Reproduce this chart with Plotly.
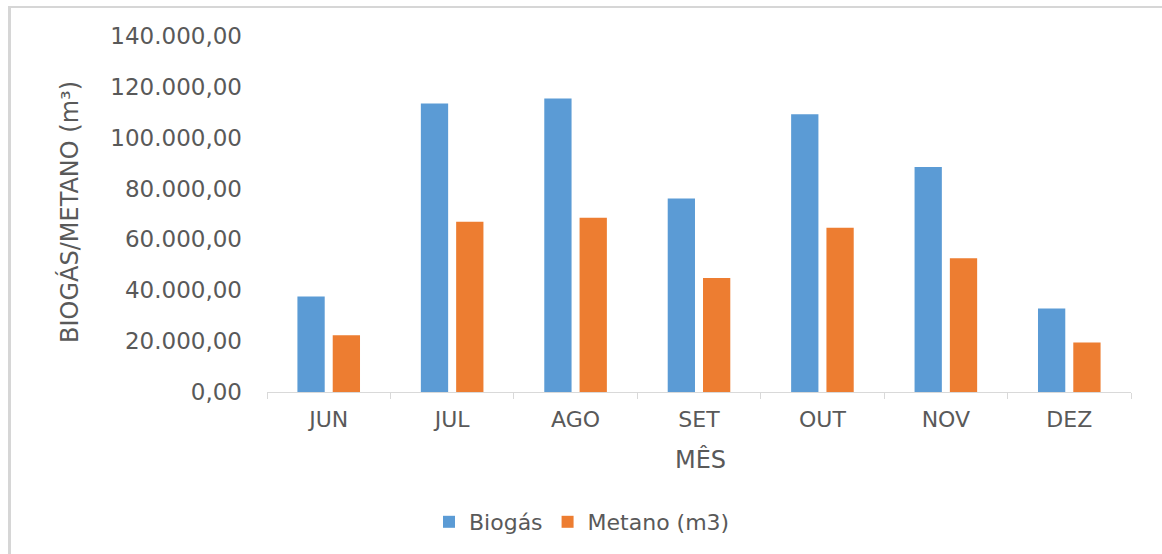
import plotly.graph_objects as go

# Monthly biogas / methane volumes (m³)
meses = ["JUN", "JUL", "AGO", "SET", "OUT", "NOV", "DEZ"]
biogas = [37600, 113500, 115400, 76100, 109200, 88500, 32800]
metano = [22300, 67000, 68500, 44800, 64600, 52600, 19500]

y_ticks = [0, 20000, 40000, 60000, 80000, 100000, 120000, 140000]

W, H = 1162, 554
L, R, T, B = 267, 31, 36, 162
PW, PH = W - L - R, H - T - B


def px_x(x):
    return (x - L) / PW


def px_y(y):
    return (H - B - y) / PH


FONT = "DejaVu Sans"
GREY = "#595959"

fig = go.Figure()
fig.add_trace(go.Bar(x=meses, y=biogas, name="Biogás", marker_color="#5B9BD5",
                     marker_line_width=0))
fig.add_trace(go.Bar(x=meses, y=metano, name="Metano (m3)", marker_color="#ED7D31",
                     marker_line_width=0))

fig.update_layout(
    width=W, height=H,
    margin=dict(l=L, r=R, t=T, b=B, autoexpand=False),
    paper_bgcolor="white", plot_bgcolor="white",
    barmode="group", bargap=0.428, bargroupgap=0.227,
    separators=",.",
    font=dict(family=FONT, color=GREY),
    showlegend=True,
    legend=dict(orientation="h", x=px_x(582), y=px_y(522), xanchor="center",
                yanchor="middle", font=dict(family=FONT, size=22, color=GREY),
                itemwidth=30, traceorder="normal", bgcolor="rgba(0,0,0,0)"),
    xaxis=dict(
        type="category", showgrid=False, showline=True, linecolor="#d9d9d9",
        linewidth=1, ticks="outside", tickson="boundaries", ticklen=6,
        tickcolor="#d9d9d9", tickfont=dict(family=FONT, size=22, color=GREY),
        ticklabelstandoff=8, zeroline=False,
    ),
    yaxis=dict(
        range=[0, 140000], tickvals=y_ticks, tickformat=",.2f", showgrid=False,
        showline=False, zeroline=False, ticks="",
        tickfont=dict(family=FONT, size=23, color=GREY), ticklabelstandoff=24,
    ),
    annotations=[
        dict(text="BIOGÁS/METANO (m³)", textangle=-90, x=px_x(69), y=px_y(212),
             xref="paper", yref="paper", xanchor="center", yanchor="middle",
             showarrow=False, font=dict(family=FONT, size=24, color=GREY)),
        dict(text="MÊS", x=px_x(700), y=px_y(459), xref="paper", yref="paper",
             xanchor="center", yanchor="middle", showarrow=False,
             font=dict(family=FONT, size=24, color=GREY)),
    ],
    shapes=[
        dict(type="line", xref="paper", yref="paper", x0=px_x(9.5), x1=px_x(9.5),
             y0=px_y(7), y1=px_y(H), line=dict(color="#d6d6d6", width=3)),
        dict(type="line", xref="paper", yref="paper", x0=px_x(8), x1=px_x(W),
             y0=px_y(7), y1=px_y(7), line=dict(color="#d6d6d6", width=2)),
    ],
)

fig.write_html("out.html")
